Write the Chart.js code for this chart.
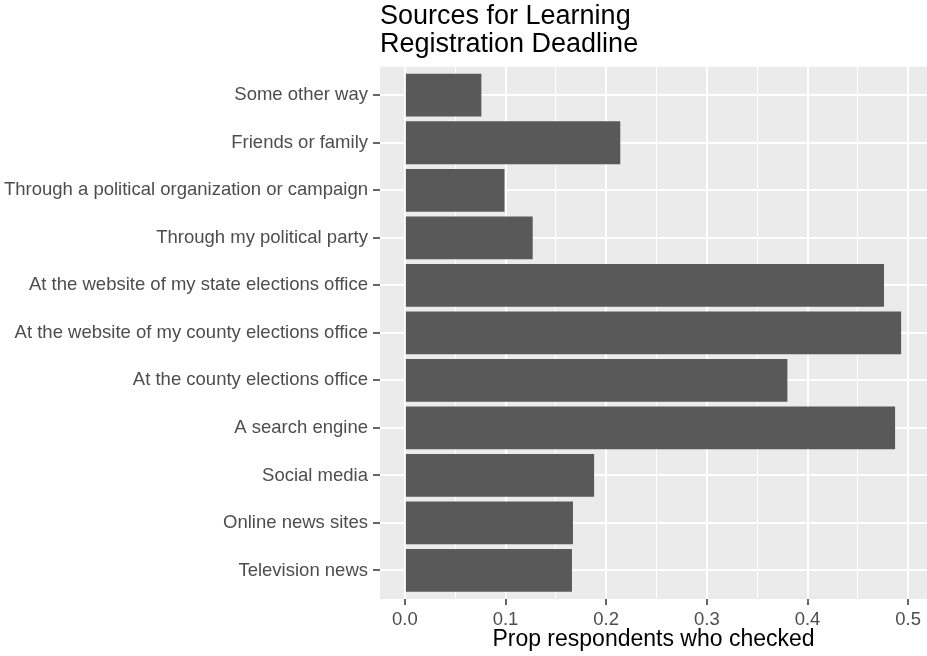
<!DOCTYPE html>
<html>
<head>
<meta charset="utf-8">
<script src="https://cdn.jsdelivr.net/npm/chart.js@4"></script>
<style>
  body { margin: 0; background: #fff; }
  #wrap { width: 927px; height: 656px; }
</style>
</head>
<body>
<div id="wrap"><canvas id="chart"></canvas></div>
<script>
// Chart Data
const categories = [
  "Some other way",
  "Friends or family",
  "Through a political organization or campaign",
  "Through my political party",
  "At the website of my state elections office",
  "At the website of my county elections office",
  "At the county elections office",
  "A search engine",
  "Social media",
  "Online news sites",
  "Television news"
];
const proportions = [0.076, 0.214, 0.099, 0.127, 0.476, 0.493, 0.380, 0.487, 0.188, 0.167, 0.166];
const xMajorTicks = [0, 0.1, 0.2, 0.3, 0.4, 0.5];
const xMinorTicks = [0.05, 0.15, 0.25, 0.35, 0.45];
const xLimits = [-0.0247, 0.5187];
const yLimits = [-0.6, 10.6];

const fontFamily = "'Liberation Sans', Arial, Helvetica, sans-serif";

// grey panel behind the grid
const panelBackground = {
  id: 'panelBackground',
  beforeDraw(chart) {
    const a = chart.chartArea;
    const ctx = chart.ctx;
    ctx.save();
    ctx.fillStyle = '#EBEBEB';
    ctx.fillRect(a.left, a.top, a.right - a.left, a.bottom - a.top);
    ctx.restore();
  }
};

const isMajor = (v) => xMajorTicks.some(t => Math.abs(t - v) < 1e-9);

const chart = new Chart(document.getElementById('chart'), {
  type: 'bar',
  data: {
    datasets: [{
      data: categories.map((c, i) => ({ x: proportions[i], y: i })),
      backgroundColor: '#595959',
      borderWidth: 0,
      categoryPercentage: 0.9,
      barPercentage: 1.0
    }]
  },
  options: {
    indexAxis: 'y',
    responsive: true,
    maintainAspectRatio: false,
    animation: false,
    layout: { padding: { top: 2, right: 0, bottom: 0, left: 0 } },
    scales: {
      x: {
        type: 'linear',
        min: xLimits[0],
        max: xLimits[1],
        afterBuildTicks(scale) {
          scale.ticks = xMajorTicks.concat(xMinorTicks).sort((a, b) => a - b).map(v => ({ value: v }));
        },
        afterFit(scale) { scale.height = 57; },
        border: { display: false },
        grid: {
          color: '#FFFFFF',
          lineWidth: (ctx) => isMajor(ctx.tick.value) ? 2 : 1,
          tickColor: (ctx) => isMajor(ctx.tick.value) ? '#333333' : 'rgba(0,0,0,0)',
          tickLength: 6,
          tickWidth: 1.5
        },
        ticks: {
          autoSkip: false,
          maxRotation: 0,
          padding: 4,
          color: '#4D4D4D',
          font: { family: fontFamily, size: 18.5 },
          callback: (v) => isMajor(v) ? v.toFixed(1) : ''
        },
        title: {
          display: true,
          text: 'Prop respondents who checked',
          color: '#000000',
          font: { family: fontFamily, size: 23 },
          padding: { top: 0, bottom: 3 }
        }
      },
      y: {
        type: 'linear',
        reverse: true,
        offset: false,
        min: yLimits[0],
        max: yLimits[1],
        afterBuildTicks(scale) {
          scale.ticks = categories.map((c, i) => ({ value: i }));
        },
        afterFit(scale) { scale.width = 380; },
        border: { display: false },
        grid: {
          offset: false,
          color: '#FFFFFF',
          lineWidth: 2,
          tickColor: '#333333',
          tickLength: 7,
          tickWidth: 1.5
        },
        ticks: {
          autoSkip: false,
          padding: 5,
          color: '#4D4D4D',
          font: { family: fontFamily, size: 18.5 },
          callback: (v) => categories[v]
        }
      }
    },
    plugins: {
      legend: { display: false },
      tooltip: { enabled: false },
      title: {
        display: true,
        text: ['Sources for Learning', 'Registration Deadline'],
        align: 'start',
        fullSize: false,
        color: '#000000',
        font: { family: fontFamily, size: 27, weight: 'normal', lineHeight: 1.05 },
        padding: { top: 0, bottom: 8 }
      }
    }
  },
  plugins: [panelBackground]
});
</script>
</body>
</html>
